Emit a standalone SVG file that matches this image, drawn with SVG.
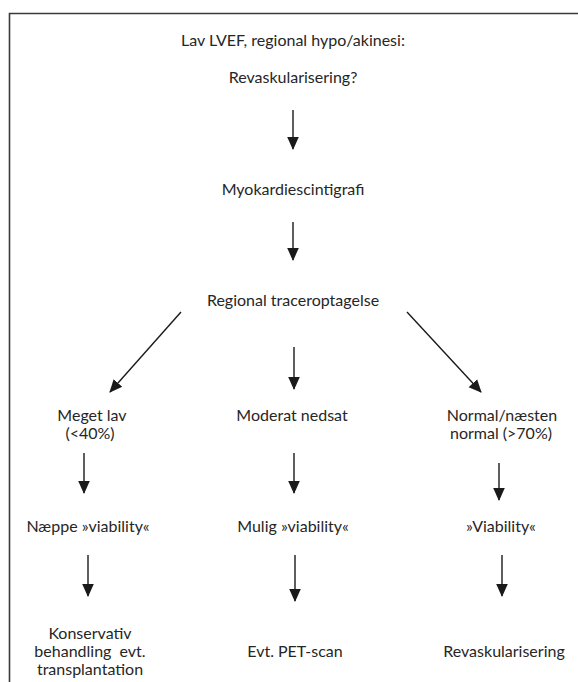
<svg xmlns="http://www.w3.org/2000/svg" width="578" height="682" viewBox="0 0 578 682">
  <defs>
    <marker id="head" markerUnits="userSpaceOnUse" markerWidth="14" markerHeight="14" viewBox="0 0 14 14" refX="12" refY="7" orient="auto">
      <path d="M0,1.2 L13,7 L0,12.8 Z" fill="#1a1a1a"/>
    </marker>
  </defs>
  <style>
    .frame { fill: none; stroke: #3a3a3a; stroke-width: 1.6; }
    .lbl { font-family: Lato, "Open Sans", "Liberation Sans", sans-serif; font-size: 16px; fill: #262626; text-anchor: middle; }
    .arrow { stroke: #1a1a1a; stroke-width: 1.4; fill: none; marker-end: url(#head); }
  </style>

  <rect width="578" height="682" fill="#ffffff"/>
  <!-- frame: top and left edges -->
  <path class="frame" d="M9.5,690 L9.5,13.5 L590,13.5"/>

  <g id="start">
    <text class="lbl" x="293" y="46">Lav LVEF, regional hypo/akinesi:</text>
    <text class="lbl" x="293" y="83">Revaskularisering?</text>
  </g>
  <g id="scinti">
    <text class="lbl" x="293" y="195">Myokardiescintigrafi</text>
  </g>
  <g id="uptake">
    <text class="lbl" x="293" y="306">Regional traceroptagelse</text>
  </g>
  <g id="low">
    <text class="lbl" x="92" y="421">Meget lav</text>
    <text class="lbl" x="90" y="439">(&lt;40%)</text>
  </g>
  <g id="moderate">
    <text class="lbl" x="292" y="421">Moderat nedsat</text>
  </g>
  <g id="normal">
    <text class="lbl" x="502" y="421">Normal/næsten</text>
    <text class="lbl" x="501" y="439">normal (&gt;70%)</text>
  </g>
  <g id="unlikely">
    <text class="lbl" x="88" y="532">Næppe »viability«</text>
  </g>
  <g id="possible">
    <text class="lbl" x="293" y="532">Mulig »viability«</text>
  </g>
  <g id="viable">
    <text class="lbl" x="501" y="532">»Viability«</text>
  </g>
  <g id="conservative">
    <text class="lbl" x="90" y="639">Konservativ</text>
    <text class="lbl" x="90" y="657">behandling&#160; evt.</text>
    <text class="lbl" x="90" y="675">transplantation</text>
  </g>
  <g id="pet">
    <text class="lbl" x="295" y="657">Evt. PET-scan</text>
  </g>
  <g id="revasc">
    <text class="lbl" x="504" y="657">Revaskularisering</text>
  </g>

  <g id="connectors">
    <line class="arrow" x1="293" y1="110" x2="293" y2="149"/>
    <line class="arrow" x1="293" y1="222" x2="293" y2="260"/>
    <line class="arrow" x1="181" y1="312" x2="110" y2="392"/>
    <line class="arrow" x1="294" y1="347" x2="294" y2="389"/>
    <line class="arrow" x1="407" y1="312" x2="481" y2="392"/>
    <line class="arrow" x1="84" y1="453" x2="84" y2="493"/>
    <line class="arrow" x1="294" y1="453" x2="294" y2="493"/>
    <line class="arrow" x1="499" y1="463" x2="499" y2="500"/>
    <line class="arrow" x1="88" y1="555" x2="88" y2="596"/>
    <line class="arrow" x1="295" y1="555" x2="295" y2="601"/>
    <line class="arrow" x1="502" y1="555" x2="502" y2="596"/>
  </g>
</svg>
